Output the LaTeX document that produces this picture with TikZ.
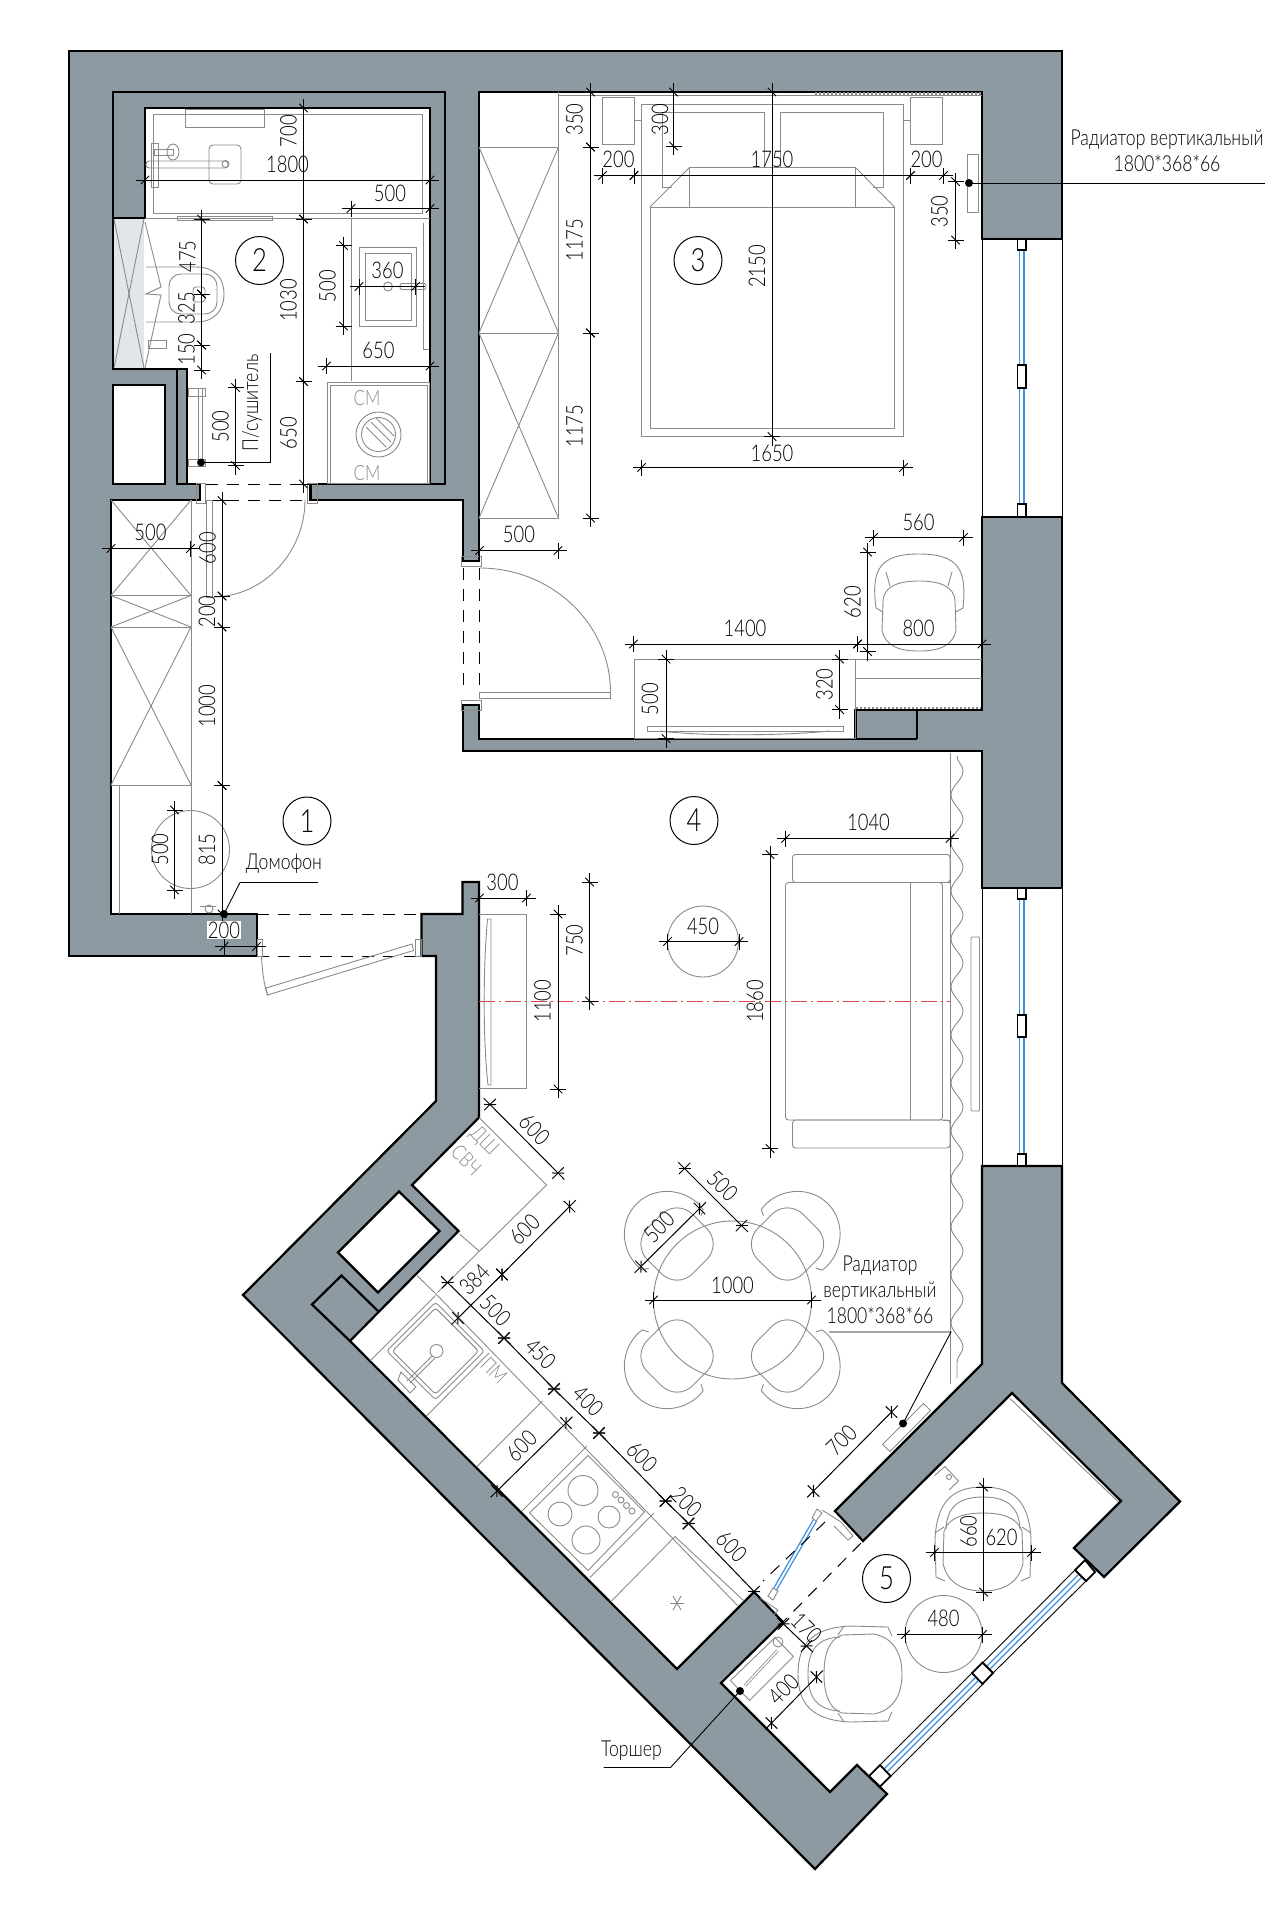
\documentclass[tikz,border=0pt]{standalone}
\usepackage{fontspec}
\usepackage{tikz}
\usetikzlibrary{
    calc,
    decorations.pathmorphing
}
\setmainfont{Lato}[UprightFont=* Light, FakeStretch=0.8]
\definecolor{wallgray}{HTML}{8E9AA1}
\definecolor{closetgray}{HTML}{E2E6E8}
\definecolor{furngray}{HTML}{8A8A8A}
\definecolor{glassblue}{HTML}{3E8FE0}
\definecolor{axisred}{HTML}{D8434B}
\tikzset{
    wall/.style={fill=wallgray, draw=black, line width=2.2pt, line join=miter},
    partline/.style={draw=black, line width=2.2pt},
    hole/.style={fill=white, draw=black, line width=2.2pt, line join=miter},
    furn/.style={draw=furngray, line width=0.9pt},
    thinblack/.style={draw=black, line width=0.9pt},
    glass/.style={draw=glassblue, line width=1.2pt},
    opening/.style={draw=black, line width=1pt, dash pattern=on 12pt off 9pt},
    dimline/.style={draw=black, line width=1pt},
    dimlab/.style={inner sep=0pt, font=\fontsize{23}{23}\selectfont},
    grayword/.style={inner sep=0pt, text=furngray, font=\fontsize{21}{21}\selectfont},
    leadword/.style={inner sep=0pt, align=center, font=\fontsize{22}{26}\selectfont},
    roomno/.style={draw=black, circle, line width=1pt, minimum size=48pt, inner sep=0pt, font=\fontsize{32}{32}\selectfont},
    leaddot/.style={fill=black, circle, inner sep=0pt, minimum size=8pt},
    bedchair/.pic={
        \draw[furn] (-43,8) .. controls (-48,-30) and (-40,-46) .. (0,-46) .. controls (40,-46) and (48,-30) .. (44,8) -- (37,12);
        \draw[furn] (-43,8) -- (-36,12);
        \draw[furn] (-36,2) .. controls (-36,-14) and (-20,-19) .. (0,-19) .. controls (20,-19) and (36,-14) .. (36,2) -- (37,30) .. controls (34,46) and (20,51) .. (0,51) .. controls (-20,51) and (-34,46) .. (-37,30) -- cycle;
        \draw[furn] (-33,-28) -- (-29,-14);
        \draw[furn] (33,-28) -- (29,-14);
    },
    balchair/.pic={
        \draw[furn] (-47,38) -- (-48,0) .. controls (-46,-38) and (-30,-52) .. (0,-52) .. controls (30,-52) and (46,-38) .. (48,0) -- (47,38) -- (38,42);
        \draw[furn] (-47,38) -- (-38,42);
        \draw[furn] (-37,-10) .. controls (-36,-34) and (-22,-42) .. (0,-42) .. controls (22,-42) and (36,-34) .. (37,-10);
        \draw[furn] (-39,-8) .. controls (-34,-22) and (-18,-26) .. (0,-26) .. controls (18,-26) and (34,-22) .. (39,-8) -- (40,24) .. controls (36,44) and (20,52) .. (0,52) .. controls (-20,52) and (-36,44) .. (-40,24) -- cycle;
        \draw[furn] (-48,-6) -- (-39,-12);
        \draw[furn] (48,-6) -- (39,-12);
    },
    dinechair/.pic={
        \draw[furn, rounded corners=22pt] (-32,-32) rectangle (32,32);
        \draw[furn] (-43,-6) .. controls (-47,-30) and (-28,-57) .. (0,-57) .. controls (28,-57) and (47,-30) .. (43,-6) -- (37,-3);
        \draw[furn] (-43,-6) -- (-37,-3);
    }
}
\newcounter{dimno}
\newcommand{\dimln}[2]{%
    \draw[dimline] ($(#1)!-9pt!(#2)$)--($(#2)!-9pt!(#1)$);
    \draw[dimline] ($(#1)!8pt!90:(#2)$)--($(#1)!-8pt!90:(#2)$);
    \draw[dimline] ($(#2)!8pt!90:(#1)$)--($(#2)!-8pt!90:(#1)$);
    \draw[dimline] ($(#1)!6pt!45:(#2)$)--($(#1)!-6pt!45:(#2)$);
    \draw[dimline] ($(#2)!6pt!45:(#1)$)--($(#2)!-6pt!45:(#1)$);
}
\newcommand{\dimtxt}[3]{%
    \stepcounter{dimno}
    \node[dimlab, rotate=#1] (dim\arabic{dimno}) at (#2) {#3};
}
\begin{document}
\begin{tikzpicture}[x=1pt, y=-1pt]
    \useasboundingbox (0,0) rectangle (1280,1906);

    \draw[wall] (69,51) -- (1062,51) -- (1062,239) -- (982,239) -- (982,92) -- (479,92) -- (479,561) -- (463,561) -- (463,500) -- (310,500) -- (310,484) -- (430,484) -- (430,108) -- (145,108) -- (145,218) -- (113,218) -- (113,369) -- (187,369) -- (187,484) -- (200,484) -- (200,500) -- (111,500) -- (111,914) -- (257,914) -- (257,956) -- (69,956) -- cycle;
    \draw[wall] (463,705) -- (479,705) -- (479,739) -- (855.5,739) -- (855.5,710) -- (982,710) -- (982,517) -- (1062,517) -- (1062,888) -- (982,888) -- (982,751) -- (463,751) -- cycle;
    \draw[wall] (982,1166) -- (1062,1166) -- (1062,1383) -- (1180,1501.5) -- (1104,1577) -- (1074,1548) -- (1121,1501) -- (1012,1393) -- (863,1541) -- (835,1511) -- (982,1364) -- cycle;
    \draw[wall] (421.5,914) -- (462.5,914) -- (462.5,882) -- (479,882) -- (479,1117.5) -- (412,1185) -- (458.5,1231) -- (350,1341) -- (677,1669) -- (754,1592) -- (783,1622) -- (721,1683) -- (830,1792) -- (857,1765) -- (887,1794) -- (815,1869) -- (243,1295) -- (436,1101) -- (436,956) -- (421.5,956) -- cycle;
    \draw[hole] (113,385) rectangle (165,484);
    \draw[hole] (399,1191.5) -- (439.5,1231) -- (378,1292.5) -- (338,1252.5) -- cycle;
    \draw[partline] (113,218) -- (113,92) -- (445,92) -- (445,484) -- (430,484);
    \draw[partline] (177,369) -- (177,484) -- (187,484);
    \draw[partline] (917,739) -- (917,710);
    \draw[partline] (855.5,739) -- (917,739);
    \draw[partline] (855.5,710) -- (917,710);
    \draw[partline] (350,1341) -- (312,1304.5) -- (341.5,1275.5) -- (378,1311);

    \fill[closetgray] (114,219) rectangle (144,368);
    \draw[furn] (114,219) -- (144,368);
    \draw[furn] (144,219) -- (114,368);
    \draw[furn] (145,222) -- (161,287) -- (146,294) -- (161,295) -- (145,368);

    \draw[furn] (153,114) rectangle (422,213);
    \draw[furn] (145,218) -- (430,218);
    \draw[furn] (177,216) rectangle (272,220);
    \draw[furn] (185,109) rectangle (264,127);
    \draw[furn, rounded corners=4pt] (209,145) rectangle (241,184);
    \draw[furn] (151,143) rectangle (158,187);
    \draw[furn, rounded corners=3pt] (146,161) rectangle (228,168);
    \draw[furn] (225.5,164) circle (3.5);
    \draw[furn] (173,152) ellipse (6 and 8);
    \draw[furn] (154,149) rectangle (173,155);
    \draw[furn] (146,267) -- (196,267) .. controls (215,267) and (224,278) .. (224,294) .. controls (224,310) and (215,322) .. (196,322) -- (146,322);
    \draw[furn, rounded corners=12pt] (169,274) rectangle (217,314);
    \draw[furn, rounded corners=3pt] (193,287) rectangle (205,302);
    \draw[furn] (148,340) rectangle (166,348);

    \draw[furn] (351,219) -- (351,381);
    \draw[furn] (359,247) rectangle (416,326);
    \draw[furn] (365,253) rectangle (411,320);
    \draw[furn] (423,223) -- (423,349) -- (429,349);
    \draw[furn] (388,286.5) circle (4.5);
    \draw[furn, rounded corners=2pt] (400,283.5) rectangle (426,289.5);
    \draw[furn] (327.5,382) rectangle (429,483);
    \draw[furn] (330.5,385) rectangle (427,483);
    \draw[furn] (378.5,434.5) circle (22.5);
    \draw[furn] (378.5,434.5) circle (17);
    \draw[furn] (366,427) -- (386,447);
    \draw[furn] (371,422) -- (391,442);
    \draw[furn] (376,418) -- (394,436);
    \node[grayword] (cmtop) at (367,398) {СМ};
    \node[grayword] (cmbot) at (367,473) {СМ};

    \draw[furn] (198,388) -- (198,462);
    \draw[furn] (202,388) -- (202,462);
    \draw[furn] (188,388) rectangle (205,396);
    \draw[furn] (188,459) rectangle (205,466);
    \node[leaddot] (dryerdot) at (201,462.5) {};
    \draw[thinblack] (dryerdot.center) -- (270,462.5) -- (270,353);
    \node[leadword, rotate=90] (dryerword) at (252,403) {П/сушитель};

    \draw[opening] (206,484) -- (310,484);
    \draw[opening] (206,500) -- (310,500);
    \draw[furn] (196,483) rectangle (205,503);
    \draw[furn] (307,483) rectangle (317,503);
    \draw[partline] (200,484) -- (200,500);
    \draw[partline] (310.5,484) -- (310.5,500);

    \draw[furn] (111,595.5) -- (191,595.5);
    \draw[furn] (111,627) -- (191,627);
    \draw[furn] (111,785) -- (191,785);
    \draw[furn] (191,500) -- (191,914);
    \draw[furn] (111,500) -- (191,595.5);
    \draw[furn] (191,500) -- (111,595.5);
    \draw[furn] (111,595.5) -- (191,627);
    \draw[furn] (191,595.5) -- (111,627);
    \draw[furn] (111,627) -- (191,785);
    \draw[furn] (191,627) -- (111,785);
    \draw[furn] (119.5,785) -- (119.5,914);
    \draw[furn] (190.5,849.5) circle (39);
    \draw[furn] (206,500.5) rectangle (212.5,597.5);
    \draw[furn] (212.5,597) .. controls (264,597) and (305,552) .. (305,500);
    \draw[furn] (200,906) -- (216,906);
    \draw[furn] (209,909) circle (4);

    \draw[opening] (257,914) -- (421,914);
    \draw[opening] (257,956) -- (421,956);
    \draw[furn] (257,939) rectangle (262.5,956.5);
    \draw[furn] (415,939) rectangle (421.5,956);
    \draw[furn] (267.5,995) -- (413.5,950.5) -- (412,944) -- (266,988) -- cycle;
    \draw[furn] (261.5,956) .. controls (262,970) and (264,985) .. (267.5,995);

    \draw[furn] (558.5,92) -- (558.5,518);
    \draw[furn] (479,147) -- (558.5,147);
    \draw[furn] (479,333) -- (558.5,333);
    \draw[furn] (479,518) -- (558.5,518);
    \draw[furn] (479,147) -- (558.5,333);
    \draw[furn] (558.5,147) -- (479,333);
    \draw[furn] (479,333) -- (558.5,518);
    \draw[furn] (558.5,333) -- (479,518);
    \draw[furn] (558,95) -- (982,95);
    \draw[furn, dash pattern=on 2pt off 2pt, line width=2.5pt] (815,93.5) -- (981,93.5);

    \draw[furn] (641.5,104.5) rectangle (903.5,436.5);
    \draw[furn] (650,207) rectangle (894.5,428.5);
    \draw[furn] (650,207) -- (689.5,167.5) -- (855.5,167.5) -- (894.5,207);
    \draw[furn] (689.5,167.5) -- (689.5,207) -- (650,207);
    \draw[furn] (855.5,167.5) -- (855.5,207) -- (894.5,207);
    \draw[furn] (672,187.5) -- (662,187.5) -- (662,112) -- (764.5,112) -- (764.5,167.5);
    \draw[furn] (780,167.5) -- (780,112) -- (883,112) -- (883,187.5) -- (873,187.5);
    \draw[furn] (602.5,97) rectangle (634,144);
    \draw[furn] (910.5,97) rectangle (942,144);
    \draw[furn] (634,120) -- (641.5,120);
    \draw[furn] (903.5,120) -- (910.5,120);
    \draw[furn] (967.5,154) rectangle (978.5,212.5);

    \draw[opening] (463,568) -- (463,692);
    \draw[opening] (479,568) -- (479,692);
    \draw[furn] (461.5,556) rectangle (481.5,566);
    \draw[furn] (461.5,700) rectangle (481.5,710);
    \draw[furn] (479.5,692.5) rectangle (610.5,698.5);
    \draw[furn] (479.5,568) .. controls (552,568) and (610.5,624) .. (610.5,692.5);

    \draw[furn] (634,659) rectangle (855.5,738);
    \draw[furn] (647.5,726.5) rectangle (843,731);
    \draw[furn] (660,731) .. controls (700,736) and (780,736) .. (830,731);
    \draw[furn] (855.5,659) -- (982,659);
    \draw[furn] (855.5,678.5) -- (982,678.5);
    \draw[furn, dash pattern=on 2pt off 2pt, line width=2.5pt] (856,708) -- (981,708);
    \pic at (919,600) {bedchair};

    \draw[thinblack] (982,239) -- (982,517);
    \draw[thinblack] (1062,239) -- (1062,517);
    \draw[glass] (1019.5,250) -- (1019.5,504);
    \draw[glass] (1024,250) -- (1024,504);
    \draw[black, fill=white, line width=1.6pt] (1017.5,239) rectangle (1026,250);
    \draw[black, fill=white, line width=1.6pt] (1017.5,365) rectangle (1026,388);
    \draw[black, fill=white, line width=1.6pt] (1017.5,504) rectangle (1026,517);

    \draw[thinblack] (982,888) -- (982,1166);
    \draw[thinblack] (1062,888) -- (1062,1166);
    \draw[glass] (1019.5,899) -- (1019.5,1154);
    \draw[glass] (1024,899) -- (1024,1154);
    \draw[black, fill=white, line width=1.6pt] (1017.5,888) rectangle (1026,899);
    \draw[black, fill=white, line width=1.6pt] (1017.5,1015) rectangle (1026,1037);
    \draw[black, fill=white, line width=1.6pt] (1017.5,1154) rectangle (1026,1166);

    \draw[furn] (950.5,753) -- (950.5,1384);
    \draw[furn, decorate, decoration={snake, segment length=48pt, amplitude=6pt}] (957,756) -- (957,1378);
    \draw[furn, rounded corners=1pt] (971,937) rectangle (979.5,1111);

    \draw[furn, rounded corners=3pt] (792.5,854.5) rectangle (950,882.5);
    \draw[furn, rounded corners=3pt] (792.5,1120) rectangle (950,1148);
    \draw[furn, rounded corners=3pt] (785.5,882.5) rectangle (942.5,1120);
    \draw[furn] (942.5,882.5) -- (950,882.5);
    \draw[furn] (942.5,1120) -- (950,1120);
    \draw[furn] (910.5,882.5) -- (910.5,1120);
    \draw[axisred, line width=1pt, dash pattern=on 16pt off 4pt on 2pt off 4pt] (479,1001) -- (950,1001);
    \draw[furn] (479,914) -- (526.5,914) -- (526.5,1088) -- (479,1088);
    \draw[furn] (487.5,919) .. controls (483,970) and (483,1040) .. (488,1085) -- (491,1085) -- (491,919) -- cycle;
    \draw[furn] (703,941.5) circle (35.5);

    \draw[furn] (732.5,1300) circle (79);
    \pic[rotate=45] at (677,1244) {dinechair};
    \pic[rotate=-45] at (787.5,1244) {dinechair};
    \pic[rotate=135] at (677,1356) {dinechair};
    \pic[rotate=-135] at (787.5,1356) {dinechair};

    \draw[furn] (479,1117.5) -- (546.5,1185) -- (437.5,1292.5);
    \draw[furn] (417,1275.5) -- (437.5,1295.5) -- (738,1606);
    \draw[furn] (459.5,1234) -- (479,1251);
    \draw[furn] (370.5,1360.5) -- (435.5,1295.5);
    \draw[furn] (426.5,1416) -- (489,1353);
    \draw[furn] (477,1466.5) -- (542.5,1401);
    \draw[furn] (522,1511) -- (587,1446);
    \draw[furn] (590,1577.5) -- (654,1513);
    \draw[furn] (611.5,1601) -- (675,1536.5) -- (744,1601);
    \draw[furn, rotate around={45:(435.5,1351)}, rounded corners=3pt] (401,1316.5) rectangle (470,1385.5);
    \draw[furn, rotate around={45:(435.5,1351)}, rounded corners=3pt] (405,1320.5) rectangle (466,1381.5);
    \draw[furn] (436.5,1351) circle (6.5);
    \draw[furn] (432,1356) -- (407,1381);
    \draw[furn] (435,1358) -- (410,1383);
    \draw[furn] (401,1372) -- (416,1387) -- (410,1393) -- (398,1380) -- cycle;
    \draw[furn] (588,1455.5) -- (644.5,1512) -- (588,1570.5) -- (529.5,1513) -- cycle;
    \draw[furn] (583,1490.5) circle (15);
    \draw[furn] (560,1514) circle (12);
    \draw[furn] (609,1517) circle (11);
    \draw[furn] (586,1540) circle (14);
    \draw[furn] (615.5,1494.5) circle (3);
    \draw[furn] (621,1500) circle (3);
    \draw[furn] (626.5,1505.5) circle (3);
    \draw[furn] (632,1511) circle (3);
    \draw[furn] (670,1603) -- (684,1603);
    \draw[furn] (673,1596) -- (681,1610);
    \draw[furn] (681,1596) -- (673,1610);
    \node[grayword, rotate=-45] (dishword) at (484,1141.5) {ДШ};
    \node[grayword, rotate=-45] (microword) at (466.5,1160) {СВЧ};
    \node[grayword, rotate=-45] (pmword) at (494,1370.5) {ПМ};

    \draw[thinblack] (1075,1570) -- (983,1662.5);
    \draw[thinblack] (1086,1581) -- (993,1673);
    \draw[thinblack] (972,1673) -- (880,1765);
    \draw[thinblack] (983,1684) -- (891,1776);
    \draw[glass] (1079,1574) -- (986.5,1666.5);
    \draw[glass] (1082,1577) -- (989.5,1669.5);
    \draw[glass] (976,1677) -- (884,1769);
    \draw[glass] (979,1680) -- (887,1772);
    \draw[black, fill=white, line width=1.8pt] (1085,1560) -- (1095,1572) -- (1086,1581) -- (1075,1570) -- cycle;
    \draw[black, fill=white, line width=1.8pt] (982.5,1662.5) -- (993,1673) -- (982.5,1684) -- (972,1673) -- cycle;
    \draw[black, fill=white, line width=1.8pt] (880,1765) -- (890.5,1776) -- (880,1786.5) -- (869,1776) -- cycle;

    \draw[glass] (813.5,1519.5) -- (773.5,1588.5);
    \draw[glass] (816.5,1521) -- (776.5,1590);
    \draw[furn] (817,1509) -- (822,1513) -- (816,1521) -- (812,1518) -- cycle;
    \draw[furn] (768,1596) -- (773,1588) -- (778,1591) -- (773,1600) -- cycle;
    \draw[furn] (822,1510) -- (841,1522) -- (853,1536) -- (848,1540) -- (834,1526);
    \draw[furn] (760,1598) -- (778,1610) -- (772,1617);
    \draw[opening] (825,1522) -- (763,1581);
    \draw[opening] (861,1543) -- (783,1622);

    \draw[furn] (1010,1398.5) -- (1118,1501.5);
    \draw[furn] (934.5,1475.5) -- (945,1466.5) -- (958.5,1481) -- (949,1490);
    \draw[furn] (949,1477) circle (2.5);
    \draw[furn] (882.5,1444.5) -- (923.5,1403.5) -- (930.5,1410.5) -- (890,1451.5) -- cycle;
    \draw[furn] (775,1637.5) -- (793.5,1656.5) -- (749.5,1700.5) -- (730.5,1680.5) -- cycle;
    \draw[furn, line width=3pt] (777.5,1650.5) -- (745,1685.5);
    \draw[white, line width=1.4pt] (777.5,1650.5) -- (745,1685.5);
    \draw[furn] (778,1642) circle (5);
    \pic at (983,1539) {balchair};
    \pic[rotate=90] at (850,1674) {balchair};
    \draw[furn] (943.5,1634) circle (38.5);

    \node[roomno] (room1) at (307,821) {1};
    \node[roomno] (room2) at (259.5,260.5) {2};
    \node[roomno] (room3) at (698,260.5) {3};
    \node[roomno] (room4) at (694,820.5) {4};
    \node[roomno] (room5) at (886.5,1578.5) {5};

    \dimln{303.5,108}{303.5,219}
    \dimln{303.5,219}{303.5,381.5}
    \dimln{303.5,381.5}{303.5,484}
    \dimtxt{90}{288.5,131}{700}
    \dimtxt{90}{288.5,300.5}{1030}
    \dimtxt{90}{288.5,433}{650}
    \dimln{145,180}{430,180}
    \dimtxt{0}{287.5,164.5}{1800}
    \dimln{351,208.5}{430,208.5}
    \dimtxt{0}{390,193}{500}
    \dimln{201.5,219}{201.5,294}
    \dimln{201.5,294}{201.5,345}
    \dimln{201.5,345}{201.5,370}
    \dimtxt{90}{187.5,256.5}{475}
    \dimtxt{90}{186.5,308}{325}
    \dimtxt{90}{186.5,349.5}{150}
    \dimln{343.5,245.5}{343.5,326}
    \dimtxt{90}{327.5,286}{500}
    \dimln{359,286.5}{415.5,286.5}
    \dimtxt{0}{387.5,270.5}{360}
    \dimln{326.5,366}{430,366}
    \dimtxt{0}{378.5,350.5}{650}
    \dimln{235.5,387.5}{235.5,465.5}
    \dimtxt{90}{220.5,426.5}{500}

    \dimln{111,548.5}{190.5,548.5}
    \dimtxt{0}{150.5,532.5}{500}
    \dimln{222,500.5}{222,596}
    \dimln{222,596}{222,627}
    \dimln{222,627}{222,785.5}
    \dimln{222,785.5}{222,914}
    \dimtxt{90}{207.5,548}{600}
    \dimtxt{90}{207,611.5}{200}
    \dimtxt{90}{207,706}{1000}
    \dimtxt{90}{207,849.5}{815}
    \dimln{174.5,810}{174.5,890}
    \dimtxt{90}{160,849.5}{500}
    \dimln{224,946.5}{256.5,946.5}
    \node[dimlab, fill=white, inner sep=1pt] (dimdoor) at (224,930) {200};
    \node[leaddot] (phonedot) at (224,914) {};
    \draw[thinblack] (phonedot.center) -- (240,882.5) -- (318,882.5);
    \node[leadword] (phoneword) at (284,864) {Домофон};

    \dimln{479.5,550.5}{558,550.5}
    \dimtxt{0}{519,534.5}{500}
    \dimln{479.5,898}{526.5,898}
    \dimtxt{0}{502.5,882.5}{300}
    \dimln{558,914}{558,1089}
    \dimtxt{90}{542.5,1001}{1100}
    \dimln{589.5,882}{589.5,1001}
    \dimtxt{90}{574.5,940.5}{750}

    \dimln{590.5,92}{590.5,147}
    \dimln{590.5,147}{590.5,333}
    \dimln{590.5,333}{590.5,518}
    \dimtxt{90}{574.5,119.5}{350}
    \dimtxt{90}{574.5,240}{1175}
    \dimtxt{90}{574.5,426}{1175}
    \dimln{673.5,92}{673.5,146}
    \dimtxt{90}{660,119.5}{300}
    \dimln{772,92}{772,436.5}
    \dimtxt{90}{757,266.5}{2150}
    \dimln{641.5,467.5}{903.5,467.5}
    \dimtxt{0}{772,453.5}{1650}
    \dimln{602.5,175.5}{634,175.5}
    \dimln{634,175.5}{910.5,175.5}
    \dimln{910.5,175.5}{943.5,175.5}
    \dimtxt{0}{618.5,159.5}{200}
    \dimtxt{0}{772,159.5}{1750}
    \dimtxt{0}{926.5,159.5}{200}
    \dimln{955.5,181.5}{955.5,240}
    \dimtxt{90}{939.5,211.5}{350}
    \node[leaddot] (raddot) at (969,183) {};
    \draw[thinblack] (raddot.center) -- (1265,183);
    \node[leadword] (radword) at (1167,151) {Радиатор вертикальный\\1800*368*66};
    \dimln{873.5,537.5}{963.5,537.5}
    \dimtxt{0}{918.5,522.5}{560}
    \dimln{867.5,552}{867.5,651.5}
    \dimtxt{90}{852.5,602}{620}
    \dimln{857.5,644}{982,644}
    \dimtxt{0}{918.5,628}{800}
    \dimln{633.5,644}{857.5,644}
    \dimtxt{0}{745,628}{1400}
    \dimln{666,659}{666,738.5}
    \dimtxt{90}{650,699}{500}
    \dimln{839.5,659}{839.5,709.5}
    \dimtxt{90}{824.5,684.5}{320}

    \dimln{785.5,838.5}{950,838.5}
    \dimtxt{0}{868.5,822.5}{1040}
    \dimln{770,854.5}{770,1148.5}
    \dimtxt{90}{755,1001.5}{1860}
    \dimln{667.5,941.5}{739,941.5}
    \dimtxt{0}{703,926}{450}

    \dimln{653.5,1300}{811.5,1300}
    \dimtxt{0}{732.5,1285}{1000}
    \dimln{684.5,1168.5}{741.5,1225.5}
    \dimtxt{-45}{722.5,1186}{500}
    \dimln{641,1266.5}{699.5,1208.5}
    \dimtxt{45}{659,1227}{500}

    \dimln{490,1104.5}{558,1173}
    \dimtxt{-45}{534.5,1129.5}{600}
    \dimln{569.5,1206.5}{502,1274.5}
    \dimtxt{45}{524.5,1229.5}{600}
    \dimln{502,1274.5}{458,1318}
    \dimtxt{45}{474.5,1279.5}{384}
    \dimln{447.5,1282.5}{504,1338}
    \dimln{504,1338}{554,1389}
    \dimln{554,1389}{599,1433}
    \dimln{599,1433}{665.5,1501}
    \dimln{665.5,1501}{688.5,1523.5}
    \dimln{688.5,1523.5}{754,1591.5}
    \dimtxt{-45}{495.5,1310.5}{500}
    \dimtxt{-45}{540.5,1354}{450}
    \dimtxt{-45}{588,1401}{400}
    \dimtxt{-45}{642,1457}{600}
    \dimtxt{-45}{686.5,1502}{200}
    \dimtxt{-45}{731.5,1546.5}{600}
    \dimln{566,1423}{497,1491}
    \dimtxt{45}{521.5,1446}{600}

    \dimln{891.5,1412}{813.5,1491}
    \dimtxt{45}{841.5,1440}{700}
    \node[leaddot] (balraddot) at (903,1423.5) {};
    \draw[thinblack] (balraddot.center) -- (951,1332) -- (829,1332);
    \node[leadword] (balradword) at (880,1290) {Радиатор\\вертикальный\\1800*368*66};
    \dimln{783.5,1624}{806.5,1646}
    \dimtxt{-45}{806.5,1628}{170}
    \dimln{771.5,1723}{816.5,1677}
    \dimtxt{45}{783.5,1689}{400}
    \dimln{983.5,1487}{983.5,1592}
    \dimtxt{90}{968.5,1531.5}{660}
    \dimln{934.5,1552.5}{1031.5,1552.5}
    \dimtxt{0}{1001.5,1537.5}{620}
    \dimln{905.5,1634.5}{982.5,1634.5}
    \dimtxt{0}{943.5,1618.5}{480}
    \node[leaddot] (lampdot) at (740,1691) {};
    \draw[thinblack] (lampdot.center) -- (670.5,1767.5) -- (603.5,1767.5);
    \node[leadword] (lampword) at (631.5,1750.5) {Торшер};
\end{tikzpicture}
\end{document}
